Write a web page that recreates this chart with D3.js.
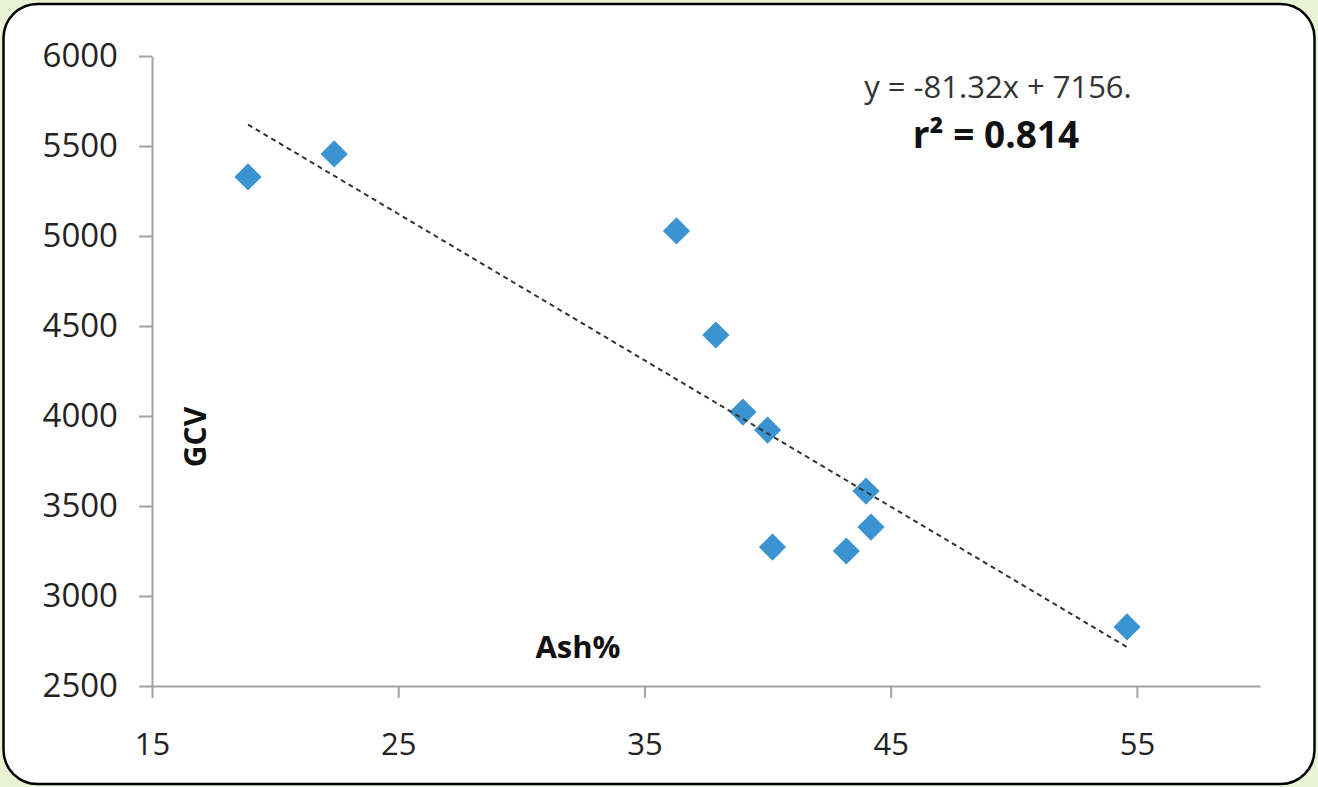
<!DOCTYPE html>
<html><head><meta charset="utf-8">
<script src="https://cdn.jsdelivr.net/npm/d3@7"></script>
<style>html,body{margin:0;padding:0;background:#e9f2d4;}svg{display:block;}</style>
</head><body>
<svg id="chart" width="1318" height="787"></svg>
<script>
// Data
const ash = [18.9, 22.4, 36.3, 37.9, 39.0, 40.0, 40.2, 43.2, 44.0, 44.2, 54.6];
const gcv = [5328, 5456, 5028, 4450, 4022, 3922, 3272, 3250, 3583, 3383, 2828];
const xTicks = [15, 25, 35, 45, 55];
const yTicks = [2500, 3000, 3500, 4000, 4500, 5000, 5500, 6000];
const trendSlope = -81.32;
const trendIntercept = 7156;
const equationText = "y = -81.32x + 7156.";
const r2Text = "r\u00B2 = 0.814";
const xLabel = "Ash%";
const yLabel = "GCV";

const font = "'Open Sans', 'Noto Sans', sans-serif";
const svg = d3.select("#chart");

svg.append("rect").attr("width", 1318).attr("height", 787).attr("fill", "#e9f2d4");
svg.append("rect").attr("x", 3.5).attr("y", 4).attr("width", 1311).attr("height", 780)
  .attr("rx", 34).attr("ry", 34).attr("fill", "#fff").attr("stroke", "#000").attr("stroke-width", 2.5);

const x = d3.scaleLinear().domain([15, 60]).range([152, 1260]);
const y = d3.scaleLinear().domain([2500, 6000]).range([686, 56]);

const axisColor = "#a3a3a3";

const gx = svg.append("g").attr("transform", "translate(0,686)")
  .call(d3.axisBottom(x).tickValues(xTicks).tickSize(12).tickSizeOuter(0).tickPadding(35).tickFormat(d3.format("d")));
const gy = svg.append("g").attr("transform", "translate(152,0)")
  .call(d3.axisLeft(y).tickValues(yTicks).tickSize(13).tickSizeOuter(0).tickPadding(21).tickFormat(d3.format("d")));

[gx, gy].forEach(g => {
  g.select(".domain").attr("stroke", axisColor).attr("stroke-width", 2);
  g.selectAll(".tick line").attr("stroke", axisColor).attr("stroke-width", 2);
  g.selectAll(".tick text").attr("fill", "#222").style("font-family", font).style("font-size", "31px");
});
gy.selectAll(".tick text").style("font-size", "33px");

// Points
const pts = ash.map((a, i) => ({ a, g: gcv[i] }));
svg.append("g").selectAll("path").data(pts).join("path")
  .attr("d", d3.symbol(d3.symbolSquare).size(370))
  .attr("transform", d => `translate(${x(d.a)},${y(d.g)}) rotate(45)`)
  .attr("fill", "#3b94d1");

// Trendline
const xmin = d3.min(ash), xmax = d3.max(ash);
svg.append("line")
  .attr("x1", x(xmin)).attr("y1", y(trendSlope * xmin + trendIntercept))
  .attr("x2", x(xmax)).attr("y2", y(trendSlope * xmax + trendIntercept))
  .attr("stroke", "#333").attr("stroke-width", 2).attr("stroke-dasharray", "5,4");

// Equation
svg.append("text").attr("x", 998).attr("y", 98).attr("text-anchor", "middle")
  .style("font-family", font).style("font-size", "31px").attr("fill", "#333").text(equationText);
svg.append("text").attr("x", 996).attr("y", 148).attr("text-anchor", "middle")
  .style("font-family", font).style("font-size", "37px").style("font-weight", "bold").attr("fill", "#111").text(r2Text);

// Axis titles
svg.append("text").attr("transform", "translate(194,437) rotate(-90)").attr("text-anchor", "middle")
  .attr("dominant-baseline", "central")
  .style("font-family", font).style("font-size", "30px").style("font-weight", "bold").attr("fill", "#111").text(yLabel);
svg.append("text").attr("x", 578).attr("y", 658).attr("text-anchor", "middle")
  .style("font-family", font).style("font-size", "31px").style("font-weight", "bold").attr("fill", "#111").text(xLabel);
</script>
</body></html>
